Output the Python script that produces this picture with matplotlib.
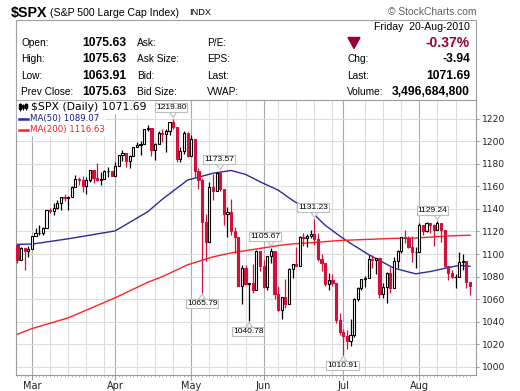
import matplotlib
matplotlib.use('Agg')
import matplotlib.pyplot as plt
from matplotlib.patches import Rectangle, Polygon
import numpy as np
import pandas as pd

# trading days on the chart, Feb 23 - Aug 20 2010
feb_days = [23, 24, 25, 26]
mar_days = [1, 2, 3, 4, 5, 8, 9, 10, 11, 12, 15, 16, 17, 18, 19, 22, 23, 24, 25, 26, 29, 30, 31]
apr_days = [1, 5, 6, 7, 8, 9, 12, 13, 14, 15, 16, 19, 20, 21, 22, 23, 26, 27, 28, 29, 30]
may_days = [3, 4, 5, 6, 7, 10, 11, 12, 13, 14, 17, 18, 19, 20, 21, 24, 25, 26, 27, 28]
jun_days = [1, 2, 3, 4, 7, 8, 9, 10, 11, 14, 15, 16, 17, 18, 21, 22, 23, 24, 25, 28, 29, 30]
jul_days = [1, 2, 6, 7, 8, 9, 12, 13, 14, 15, 16, 19, 20, 21, 22, 23, 26, 27, 28, 29, 30]
aug_days = [2, 3, 4, 5, 6, 9, 10, 11, 12, 13, 16, 17, 18, 19, 20]

prev_close = 1108.01  # close of Feb 22 (open of each bar = previous close)
close = [1094.60, 1105.24, 1102.94, 1104.49,
         1115.71, 1118.31, 1118.79, 1122.97, 1138.70, 1138.50, 1140.45, 1145.61, 1150.24, 1149.99,
         1150.51, 1159.46, 1166.21, 1165.83, 1159.90, 1165.81, 1174.17, 1167.72, 1165.73, 1166.59,
         1173.22, 1173.27, 1169.43,
         1178.10, 1187.44, 1189.44, 1182.45, 1186.44, 1194.37, 1196.48, 1197.30, 1210.65, 1211.67,
         1192.13, 1197.52, 1207.17, 1205.94, 1208.67, 1217.28, 1212.05, 1183.71, 1191.36, 1206.78,
         1186.69,
         1202.26, 1173.60, 1165.87, 1128.15, 1110.88, 1159.73, 1155.79, 1171.67, 1157.44, 1135.68,
         1136.94, 1120.80, 1115.05, 1071.59, 1087.69, 1073.65, 1074.03, 1067.95, 1103.06, 1089.41,
         1070.71, 1098.38, 1102.83, 1064.88, 1050.47, 1062.00, 1055.69, 1086.84, 1091.60, 1089.63,
         1115.23, 1114.61, 1116.04, 1117.51, 1113.20, 1095.31, 1092.04, 1073.69, 1076.76, 1074.57,
         1041.24, 1030.71,
         1027.37, 1022.58, 1028.06, 1060.27, 1070.25, 1077.96, 1078.75, 1095.34, 1095.17, 1096.48,
         1064.88, 1071.25, 1083.48, 1069.59, 1093.67, 1102.66, 1115.01, 1113.84, 1106.13, 1101.53,
         1101.60,
         1125.86, 1120.46, 1127.24, 1125.81, 1121.64, 1127.79, 1121.06, 1089.47, 1083.61, 1079.25,
         1079.38, 1092.54, 1094.16, 1075.63, 1071.69]
high = [1108.58, 1106.42, 1105.30, 1107.24,
        1116.11, 1123.46, 1125.64, 1123.73, 1139.38, 1141.05, 1145.37, 1148.26, 1150.24, 1153.41,
        1151.43, 1160.28, 1169.84, 1167.77, 1169.20, 1167.82, 1174.72, 1174.17, 1180.69, 1173.03,
        1174.85, 1177.03, 1173.36,
        1181.43, 1187.73, 1191.80, 1189.60, 1187.26, 1194.66, 1199.20, 1199.98, 1210.65, 1213.92,
        1212.00, 1197.87, 1208.50, 1210.99, 1210.27, 1217.28, 1219.80, 1212.05, 1195.05, 1209.36,
        1207.99,
        1205.13, 1202.26, 1175.95, 1167.58, 1135.13, 1163.85, 1170.48, 1173.03, 1173.57, 1157.44,
        1141.88, 1148.66, 1124.27, 1115.05, 1089.95, 1089.86, 1074.75, 1090.75, 1103.52, 1103.06,
        1094.77, 1098.43, 1105.67, 1102.83, 1071.86, 1062.00, 1077.74, 1087.85, 1091.60, 1105.87,
        1115.59, 1118.74, 1117.72, 1121.01, 1131.23, 1118.50, 1099.64, 1092.04, 1083.11, 1082.60,
        1074.57, 1048.08,
        1033.58, 1032.94, 1042.50, 1060.89, 1071.25, 1078.16, 1080.78, 1099.08, 1099.08, 1096.48,
        1096.48, 1074.70, 1083.94, 1088.96, 1097.50, 1103.73, 1115.01, 1120.95, 1116.11, 1115.90,
        1106.44,
        1127.30, 1125.86, 1128.75, 1127.24, 1126.56, 1129.24, 1127.79, 1121.06, 1089.47, 1086.25,
        1082.61, 1101.73, 1099.77, 1094.16, 1075.63]
low = [1092.18, 1094.60, 1086.02, 1097.56,
       1104.49, 1115.71, 1116.58, 1116.66, 1122.97, 1136.77, 1134.90, 1140.09, 1138.99, 1146.97,
       1138.77, 1150.35, 1159.46, 1161.16, 1155.33, 1152.88, 1163.83, 1163.31, 1165.09, 1161.48,
       1166.59, 1168.01, 1168.86,
       1169.43, 1178.10, 1182.77, 1177.25, 1176.59, 1186.44, 1194.37, 1187.93, 1197.30, 1208.50,
       1186.77, 1183.68, 1197.52, 1198.85, 1190.19, 1205.10, 1211.07, 1181.62, 1181.81, 1188.56,
       1186.32,
       1186.69, 1168.12, 1157.19, 1065.79, 1094.15, 1110.88, 1147.71, 1155.79, 1156.09, 1126.14,
       1114.96, 1117.20, 1100.66, 1071.59, 1055.90, 1072.70, 1040.78, 1065.59, 1067.95, 1084.61,
       1069.89, 1068.00, 1091.81, 1060.50, 1049.86, 1042.17, 1052.25, 1055.69, 1079.20, 1089.30,
       1089.63, 1107.13, 1105.87, 1113.93, 1108.24, 1094.18, 1085.31, 1071.72, 1067.89, 1071.45,
       1038.90, 1028.33,
       1010.91, 1015.93, 1018.35, 1026.90, 1058.24, 1068.10, 1070.45, 1078.75, 1087.68, 1082.60,
       1060.89, 1061.11, 1056.88, 1065.25, 1069.59, 1087.88, 1101.30, 1109.78, 1105.01, 1092.82,
       1088.01,
       1101.60, 1116.76, 1119.46, 1118.81, 1107.17, 1120.91, 1111.01, 1088.03, 1076.69, 1079.00,
       1069.50, 1079.38, 1085.76, 1070.18, 1063.91]

# moving averages
ma_dates = ['2010-02-23', '2010-03-01', '2010-03-15', '2010-04-01', '2010-04-15', '2010-04-21',
            '2010-04-30', '2010-05-11', '2010-05-18', '2010-05-24', '2010-05-28', '2010-06-07',
            '2010-06-11', '2010-06-18', '2010-06-24', '2010-06-30', '2010-07-06', '2010-07-13',
            '2010-07-22', '2010-07-30', '2010-08-05', '2010-08-12', '2010-08-17', '2010-08-20']
ma50 = [1108.6, 1108.8, 1113.5, 1120.5, 1137.5, 1148.5, 1165.5, 1171.5, 1174.0, 1170.5, 1164.0,
        1156.6, 1147.5, 1138.0, 1125.5, 1116.0, 1109.5, 1099.5, 1087.5, 1082.5, 1084.5, 1088.0,
        1090.0, 1089.07]
ma200 = [1029.0, 1034.0, 1043.5, 1061.3, 1075.0, 1080.0, 1090.5, 1097.5, 1101.0, 1103.0, 1105.0,
         1107.5, 1109.0, 1110.0, 1111.0, 1112.0, 1112.4, 1113.0, 1113.9, 1114.2, 1115.0, 1116.0,
         1116.4, 1116.63]

# flagged extremes
label_dates = ['2010-04-26', '2010-05-13', '2010-05-06', '2010-05-25',
               '2010-06-03', '2010-06-21', '2010-07-01', '2010-08-09']
label_side = ['high', 'high', 'low', 'low', 'high', 'high', 'low', 'high']

quote_left = [('Open:', '1075.63', 'Ask:', 'P/E:'),
              ('High:', '1075.63', 'Ask Size:', 'EPS:'),
              ('Low:', '1063.91', 'Bid:', 'Last:'),
              ('Prev Close:', '1075.63', 'Bid Size:', 'VWAP:')]
quote_right = [('Chg:', '-3.94'), ('Last:', '1071.69'), ('Volume:', '3,496,684,800')]
quote_day = 'Friday  20-Aug-2010'
quote_pct = '-0.37%'

RED = '#d3103c'
W, H = 520, 391
fig = plt.figure(figsize=(W / 100, H / 100), dpi=100)


def box(l, t, r, b):
    return [l / W, 1 - b / H, (r - l) / W, (b - t) / H]


def pixel_axes(z):
    a = fig.add_axes([0, 0, 1, 1], zorder=z)
    a.set_xlim(0, W)
    a.set_ylim(H, 0)
    a.axis('off')
    return a


bg = pixel_axes(0)
ax = fig.add_axes(box(16, 100, 476, 374.5), zorder=1)
top = pixel_axes(3)

dates = pd.to_datetime(['2010-%02d-%02d' % (m, d) for m, days in
                        [(2, feb_days), (3, mar_days), (4, apr_days), (5, may_days),
                         (6, jun_days), (7, jul_days), (8, aug_days)] for d in days])
pos = {d: i for i, d in enumerate(dates)}
x = np.arange(len(dates))
close = np.array(close)
opens = np.r_[prev_close, close[:-1]]

# ---- header ----
hf = 'Liberation Sans'
bg.add_patch(Rectangle((16, 19.5), 460, 81, fill=False, ec='#a0a0a0', lw=0.8))
bg.text(11, 12.5, '$SPX', fontsize=10.3, fontweight='bold', family=hf, va='center')
bg.text(50, 12.5, '(S&P 500 Large Cap Index)', fontsize=7.6, family=hf, va='center')
bg.text(189, 12.8, 'INDX', fontsize=6.7, family=hf, va='center')
bg.text(476, 12, '\u00a9 StockCharts.com', fontsize=7.4, family=hf, va='center', ha='right',
        color='#606060')
rows_y = [43, 59.5, 76, 92]
for y, (lab, val, c3, c4) in zip(rows_y, quote_left):
    bg.text(21, y, lab, fontsize=7.3, family=hf, va='center')
    bg.text(82, y, val, fontsize=8.7, family=hf, fontweight='bold', va='center')
    bg.text(137, y, c3, fontsize=7.3, family=hf, va='center')
    bg.text(207, y, c4, fontsize=7.3, family=hf, va='center')
for y, (lab, val) in zip(rows_y[1:], quote_right):
    bg.text(347, y, lab, fontsize=7.3, family=hf, va='center')
    bg.text(470, y, val, fontsize=8.7, family=hf, fontweight='bold', va='center', ha='right')
bg.text(470, 27.5, quote_day, fontsize=7.6, family=hf, va='center', ha='right')
bg.text(470, 43, quote_pct, fontsize=10, family=hf, fontweight='bold', va='center', ha='right',
        color='#990033')
bg.add_patch(Polygon([(348, 37.5), (360, 37.5), (354, 48.5)], closed=True, color='#990033'))

# ---- price panel ----
ax.set_xlim(-0.41, 126.66)
ax.set_ylim(993.36, 1236.38)

month_idx = [i for i in x[1:] if dates[i].month != dates[i - 1].month]
week_idx = [i for i in x[1:] if dates[i].week != dates[i - 1].week and i not in month_idx
            and min(abs(i - m) for m in month_idx) > 2]
for i in week_idx:
    ax.axvline(i, color='#dcdcdc', lw=0.8, zorder=0)
for i in month_idx:
    ax.axvline(i, color='#ababab', lw=0.8, zorder=0)
ax.set_yticks(np.arange(1000, 1221, 20))
ax.grid(axis='y', color='#dcdcdc', lw=0.8, zorder=0)
ax.set_axisbelow(True)

ma_x = [pos[pd.Timestamp(d)] for d in ma_dates]
ax.plot(ma_x, ma50, color='#2a2aa5', lw=1.0, zorder=2)
ax.plot(ma_x, ma200, color='#ff2222', lw=1.0, zorder=2)

up = close >= opens
cols = np.where(up, 'black', RED)
ax.vlines(x, low, high, colors=cols, lw=0.9, zorder=3)
for i in x:
    b = min(opens[i], close[i])
    h = max(abs(close[i] - opens[i]), 0.5)
    ax.add_patch(Rectangle((i - 0.3, b), 0.6, h, fc='white' if up[i] else RED,
                           ec=cols[i], lw=0.8, zorder=4))

# flag boxes
sx = (126.66 + 0.41) / 460
sy = (1236.38 - 993.36) / 274.5
shift_px = [-2, -1, 0, -1, -6, -1.5, -1, -5]
for d, side, dx in zip(label_dates, label_side, shift_px):
    i = pos[pd.Timestamp(d)]
    v = high[i] if side == 'high' else low[i]
    s = 1 if side == 'high' else -1
    ax.add_patch(Polygon([(i - 3.5 * sx, v + s * 6.5 * sy), (i, v + s * 1.5 * sy),
                          (i + 3.5 * sx, v + s * 6.5 * sy)], closed=True, fc='white',
                         ec='#bdbdbd', lw=0.8, zorder=5, clip_on=False))
    ax.text(i + dx * sx, v + s * 11 * sy, '%.2f' % v, fontsize=6, family=hf,
            ha='center', va='center', zorder=6, clip_on=False,
            bbox=dict(boxstyle='square,pad=0.12', fc='white', ec='#bdbdbd', lw=0.8))

for sp in ax.spines.values():
    sp.set_color('#9a9a9a')
    sp.set_linewidth(0.8)
ax.yaxis.tick_right()
ax.tick_params(axis='y', length=2.5, pad=1.5, labelsize=6.6, colors='#9a9a9a',
               labelcolor='#222222')
ax.set_xticks(month_idx)
ax.set_xticklabels([dates[i].strftime('%b') for i in month_idx])
ax.set_xticks(x, minor=True)
ax.tick_params(axis='x', which='major', length=3.5, pad=1.5, labelsize=7, colors='#9a9a9a',
               labelcolor='#222222')
ax.tick_params(axis='x', which='minor', length=1.5, colors='#b0b0b0')

# ---- legend ----
top.add_patch(Rectangle((17, 101), 133, 11.5, color='white'))
top.add_patch(Rectangle((17, 112.5), 87, 22.5, color='white'))
top.vlines([20, 23, 26], [102.5, 103.5, 102.5], [110.5, 109.5, 110], color='black', lw=0.8)
top.add_patch(Rectangle((19.2, 104), 1.6, 4.5, color='black'))
top.add_patch(Rectangle((22.2, 104.5), 1.6, 3.5, fc='white', ec='black', lw=0.6))
top.add_patch(Rectangle((25.2, 104), 1.6, 4, color='black'))
top.text(31, 107, '$SPX (Daily) %.2f' % close[-1], fontsize=7.8, va='center')
top.plot([19, 28], [118.5, 118.5], color='#2a2aa5', lw=1.8)
top.text(29.5, 118.5, 'MA(50) %.2f' % ma50[-1], fontsize=6.2, va='center', color='#1a1a90')
top.plot([19, 28], [129.5, 129.5], color='#ff2222', lw=1.8)
top.text(29.5, 129.5, 'MA(200) %.2f' % ma200[-1], fontsize=6.2, va='center', color='#ff1a1a')

fig.savefig('out.png', dpi=100)
